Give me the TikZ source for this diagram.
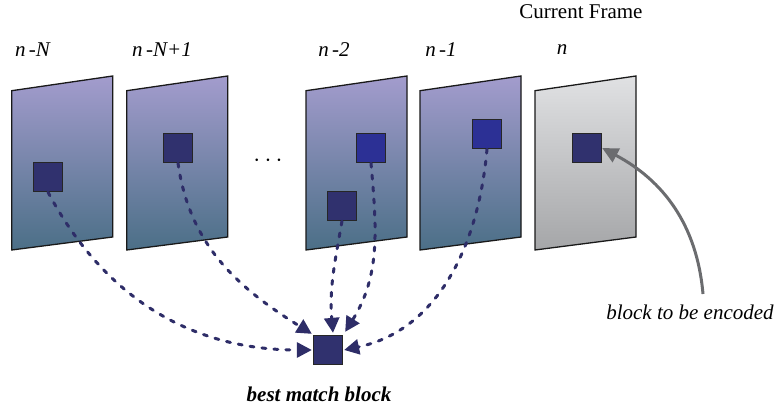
\documentclass[tikz,border=0pt]{standalone}
\usepackage{fontspec}
\setmainfont{Liberation Serif}
\usetikzlibrary{arrows.meta}
\definecolor{frametop}{HTML}{A39CCD}
\definecolor{framebot}{HTML}{4B6F87}
\definecolor{curtop}{HTML}{E0E1E3}
\definecolor{curbot}{HTML}{A5A6A8}
\definecolor{blkdark}{HTML}{30316E}
\definecolor{blkbright}{HTML}{2C3095}
\definecolor{navy}{HTML}{2E2D68}
\definecolor{arrgray}{HTML}{6B6C6F}

\begin{document}
\begin{tikzpicture}[x=1pt,y=1pt,
  font=\fontsize{21}{24}\selectfont,
  blk/.style={draw=black!85,line width=1.3pt,fill=blkdark,minimum size=29pt,inner sep=0pt},
  match/.style={navy,line width=3pt,line cap=round,dash pattern=on 4pt off 8pt,
    -{Triangle[length=15pt,width=15pt]}}]
\useasboundingbox (0,0) rectangle (776,-411);
\foreach \x in {11.7,126.7,306,420} % edit here for the reference frames
\shade[top color=frametop,bottom color=framebot,draw=black!90,line width=1.3pt]
  (\x,-90.7) -- ++(101,14.7) -- ++(0,-161) -- ++(-101,-13) -- cycle;
\shade[top color=curtop,bottom color=curbot,draw=black!90,line width=1.3pt]
  (535,-90.7) -- ++(101,14.7) -- ++(0,-161) -- ++(-101,-13) -- cycle;
% labels
\node (lN) at (33,-50) {\textit{n\,-N}};
\node (lN1) at (162,-50) {\textit{n\,-N+1}};
\node (l2) at (334,-50) {\textit{n\,-2}};
\node (l1) at (441,-50) {\textit{n\,-1}};
\node (l0) at (562,-50) {\textit{n}};
\node (cur) at (581,-12) {Current Frame};
\node[font=\fontsize{40}{40}\selectfont] (dots) at (268,-161) {$\cdots$};
% blocks
\node[blk] (b1) at (48,-177) {};
\node[blk] (b2) at (178,-148) {};
\node[blk,fill=blkbright] (b3u) at (371,-148) {};
\node[blk] (b3l) at (342,-206) {};
\node[blk,fill=blkbright] (b4) at (487,-134) {};
\node[blk] (b5) at (587,-148) {};
\node[blk] (best) at (328,-350) {};
\node (bestlbl) at (319,-394) {\textbf{\textit{best match block}}};
\node (enc) at (690,-312) {\textit{block to be encoded}};
\coordinate (encstart) at (703,-294);
% search paths
\draw[match] (b1.south) to[out=-62,in=180] ([xshift=-1pt]best.west);
\draw[match] (b2.south) to[out=-82,in=148] ([shift={(-1pt,1pt)}]best.north west);
\draw[match] (b3l.south) to[out=-100,in=95] ([shift={(5pt,2pt)}]best.north);
\draw[match] (b3u.south) to[out=-85,in=58] ([shift={(2pt,3pt)}]best.north east);
\draw[match] (b4.south) to[out=-95,in=12] ([xshift=1pt]best.east);
\draw[arrgray,line width=3pt,-{Triangle[length=16pt,width=15pt]}]
  (encstart) to[out=95,in=-28] (b5.east);
\end{tikzpicture}
\end{document}
